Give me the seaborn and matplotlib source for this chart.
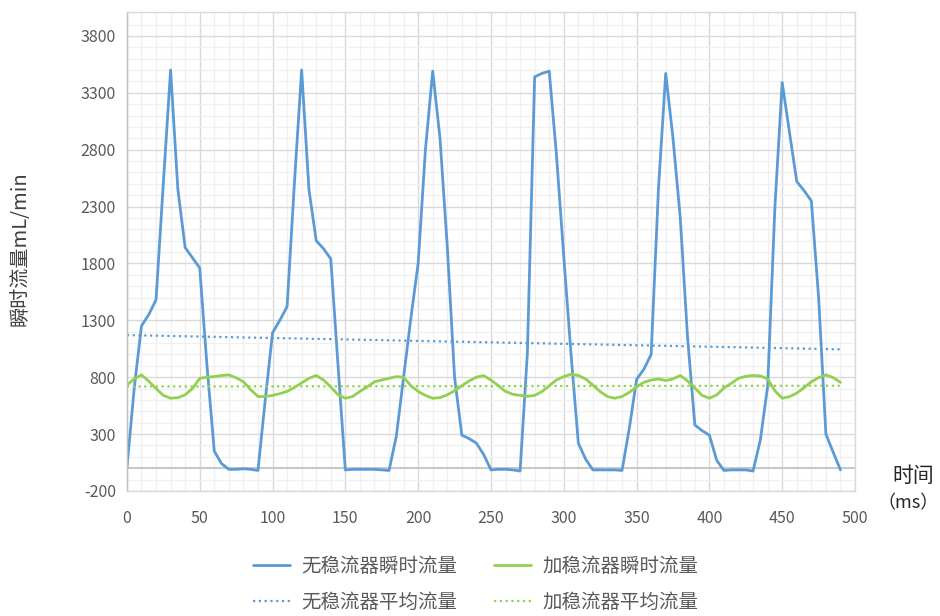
import numpy as np
import pandas as pd
import matplotlib
matplotlib.use("Agg")
import matplotlib.pyplot as plt
import seaborn as sns
from matplotlib.ticker import MultipleLocator

# time (ms), read every 5 ms
t = [0, 5, 10, 15, 20, 25, 30, 35, 40, 45, 50, 55, 60, 65, 70, 75, 80, 85, 90, 95,
     100, 105, 110, 115, 120, 125, 130, 135, 140, 145, 150, 155, 160, 165, 170, 175, 180, 185, 190, 195,
     200, 205, 210, 215, 220, 225, 230, 235, 240, 245, 250, 255, 260, 265, 270, 275, 280, 285, 290, 295,
     300, 305, 310, 315, 320, 325, 330, 335, 340, 345, 350, 355, 360, 365, 370, 375, 380, 385, 390, 395,
     400, 405, 410, 415, 420, 425, 430, 435, 440, 445, 450, 455, 460, 465, 470, 475, 480, 485, 490]

# instantaneous flow without stabilizer (mL/min)
flow_no = [0, 700, 1250, 1350, 1480, 2500, 3500, 2450, 1940, 1850,
           1760, 900, 150, 40, -10, -10, -5, -10, -20, 600,
           1190, 1300, 1420, 2500, 3500, 2450, 2000, 1930, 1840, 900,
           -15, -10, -10, -10, -10, -15, -20, 280, 800, 1320,
           1800, 2800, 3490, 2900, 1950, 800, 290, 260, 220, 120,
           -15, -10, -10, -15, -25, 1010, 3440, 3470, 3490, 2750,
           1860, 1000, 220, 80, -15, -15, -15, -15, -20, 350,
           780, 870, 1000, 2450, 3470, 2900, 2200, 1150, 380, 330,
           290, 70, -20, -15, -15, -15, -25, 250, 720, 2300,
           3390, 2950, 2520, 2440, 2350, 1500, 300, 140, -15]

# instantaneous flow with stabilizer (mL/min)
flow_yes = [730, 785, 820, 765, 700, 640, 615, 620, 645, 700,
            790, 800, 805, 815, 820, 795, 760, 690, 630, 630,
            640, 655, 675, 710, 750, 790, 815, 775, 715, 645,
            615, 630, 675, 715, 760, 775, 790, 805, 800, 725,
            675, 640, 615, 620, 645, 680, 725, 767, 800, 814,
            775, 726, 675, 650, 640, 632, 640, 673, 725, 776,
            805, 826, 815, 785, 730, 673, 630, 615, 630, 667,
            715, 755, 775, 785, 770, 785, 815, 767, 705, 640,
            615, 644, 705, 746, 790, 808, 815, 811, 785, 680,
            615, 629, 660, 708, 760, 796, 820, 796, 755]

# average flow lines (end points)
t_avg = [0, 490]
avg_no = [1170, 1045]
avg_yes = [718, 725]

labels = ["无稳流器瞬时流量", "无稳流器平均流量", "加稳流器瞬时流量", "加稳流器平均流量"]

blue = "#5B9BD5"
green = "#92D050"

sns.set_theme(style="white")
plt.rcParams['font.family'] = ['Noto Sans CJK SC', 'DejaVu Sans']
plt.rcParams['axes.unicode_minus'] = False

fig = plt.figure(figsize=(9.4, 6.16), dpi=100)
ax = fig.add_axes([0.135, 0.203, 0.7746, 0.7775])

sns.lineplot(x=t, y=flow_no, color=blue, lw=2.0, label=labels[0], ax=ax)
sns.lineplot(x=t_avg, y=avg_no, color=blue, lw=1.6, ls=(0, (1, 1.6)), label=labels[1], ax=ax)
sns.lineplot(x=t, y=flow_yes, color=green, lw=2.0, label=labels[2], ax=ax)
sns.lineplot(x=t_avg, y=avg_yes, color=green, lw=1.6, ls=(0, (1, 1.6)), label=labels[3], ax=ax)

ax.set_xlim(0, 500)
ax.set_ylim(-200, 4010)
ax.xaxis.set_major_locator(MultipleLocator(50))
ax.xaxis.set_minor_locator(MultipleLocator(10))
ax.set_yticks([-200, 300, 800, 1300, 1800, 2300, 2800, 3300, 3800])
ax.set_yticks(np.arange(-200, 4000, 100), minor=True)
ax.grid(which="major", color="#D9D9D9", lw=1.0)
ax.grid(which="minor", color="#F0F0F0", lw=1.0)
ax.set_axisbelow(True)
ax.axhline(0, color="#BFBFBF", lw=1.2, zorder=1)
ax.tick_params(which="both", length=0, labelsize=11.5, colors="#595959")
ax.tick_params(axis="y", pad=8)
ax.tick_params(axis="x", pad=14)
for s in ax.spines.values():
    s.set_color("#D9D9D9")
    s.set_linewidth(1.0)
ax.spines["left"].set_color("#BFBFBF")

ax.set_ylabel("")
ax.set_xlabel("")
fig.text(0.021, 0.597, "瞬时流量mL/min", rotation=90, fontsize=14.5, color="#404040",
         ha="center", va="center")
fig.text(0.972, 0.227, "时间", fontsize=15, color="#262626", ha="center", va="center")
fig.text(0.966, 0.183, "（ms）", fontsize=13, color="#262626", ha="center", va="center")

ax.legend(loc="upper center", bbox_to_anchor=(0.479, -0.108), ncol=2, frameon=False,
          fontsize=14, handlelength=1.9, handletextpad=0.6, columnspacing=1.9,
          labelspacing=0.74, labelcolor="#595959", borderaxespad=0.3)

fig.savefig("out.png", dpi=100)
